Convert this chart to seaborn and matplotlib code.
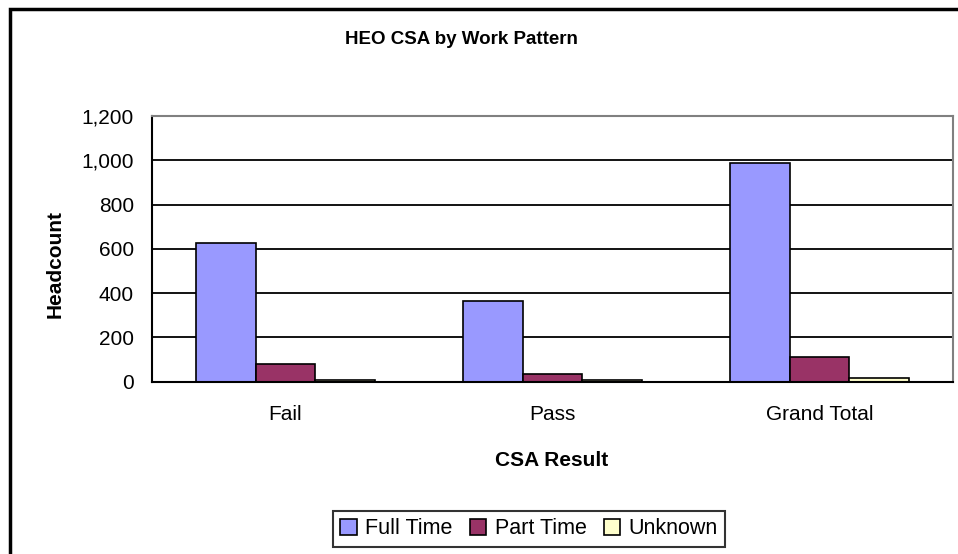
import matplotlib
matplotlib.use("Agg")
import matplotlib.pyplot as plt
import seaborn as sns
import pandas as pd
from matplotlib.patches import Rectangle
from matplotlib.ticker import FuncFormatter

# values
results = ["Fail", "Pass", "Grand Total"]
patterns = ["Full Time", "Part Time", "Unknown"]
full_time = [625, 364, 989]
part_time = [78, 34, 112]
unknown = [9, 8, 17]
colours = ["#9999FF", "#993366", "#FFFFCC"]

df = pd.DataFrame({
    "CSA Result": results * 3,
    "Pattern": [p for p in patterns for _ in results],
    "Headcount": full_time + part_time + unknown,
})

sns.set_style("white")
plt.rcParams["font.family"] = ["Liberation Sans", "DejaVu Sans"]
plt.rcParams["text.color"] = "black"
plt.rcParams["xtick.color"] = "black"
plt.rcParams["ytick.color"] = "black"

W, H = 958, 554
fig = plt.figure(figsize=(W / 100, H / 100), dpi=100)
ax = fig.add_axes([152 / W, 1 - 381.7 / H, (953 - 152) / W, (381.7 - 116) / H])

sns.barplot(data=df, x="CSA Result", y="Headcount", hue="Pattern",
            hue_order=patterns, order=results, palette=colours,
            width=0.667, edgecolor="black", linewidth=1.2, saturation=1,
            legend=False, ax=ax)

ax.set_ylim(0, 1200)
ax.set_xlim(-0.5, 2.5)
ax.set_yticks(range(0, 1201, 200))
ax.yaxis.set_major_formatter(FuncFormatter(lambda v, p: f"{int(v):,}"))
ax.yaxis.grid(True, color="black", linewidth=1.3)
ax.set_axisbelow(True)

# category labels at centres, ticks at the boundaries
ax.set_xticks([-0.5, 0.5, 1.5, 2.5])
ax.set_xticklabels([])
ax.set_xticks([0, 1, 2], minor=True)
ax.set_xticklabels(results, minor=True, fontsize=15)
ax.tick_params(axis="x", which="minor", length=0, pad=17)
ax.tick_params(axis="x", which="major", direction="out", length=6, width=1.2, color="black")
ax.tick_params(axis="y", direction="out", length=6, width=1.2, color="black", labelsize=15, pad=7)

for side in ["top", "right"]:
    ax.spines[side].set_color("#808080")
    ax.spines[side].set_linewidth(1.5)
for side in ["left", "bottom"]:
    ax.spines[side].set_color("black")
    ax.spines[side].set_linewidth(1.5)

ax.set_xlabel("")
ax.set_ylabel("")
fig.text(345 / W, 1 - 40 / H, "HEO CSA by Work Pattern", fontsize=13.5,
         fontweight="bold", ha="left", va="center")
fig.text(55 / W, 1 - 264 / H, "Headcount", fontsize=15, fontweight="bold",
         rotation=90, ha="center", va="center")
fig.text(552 / W, 1 - 460 / H, "CSA Result", fontsize=15, fontweight="bold",
         ha="center", va="center")

# legend below the plot, boxed like the reference
handles = [Rectangle((0, 0), 1, 1, facecolor=c, edgecolor="black", linewidth=1.2)
           for c in colours]
leg = fig.legend(handles, patterns, loc="center", bbox_to_anchor=(529 / W, 1 - 529 / H),
                 ncol=3, fontsize=15.5, frameon=True, fancybox=False,
                 handlelength=0.75, handleheight=0.75, handletextpad=0.4,
                 columnspacing=0.8, borderpad=0.35, borderaxespad=0)
leg.get_frame().set_edgecolor("black")
leg.get_frame().set_linewidth(1.5)

# outer chart border
fig.patches.append(Rectangle((10 / W, -0.05), 1.0, 1 - 9 / H + 0.05,
                             transform=fig.transFigure, fill=False,
                             edgecolor="black", linewidth=2.5))

fig.savefig("out.png", dpi=100)
